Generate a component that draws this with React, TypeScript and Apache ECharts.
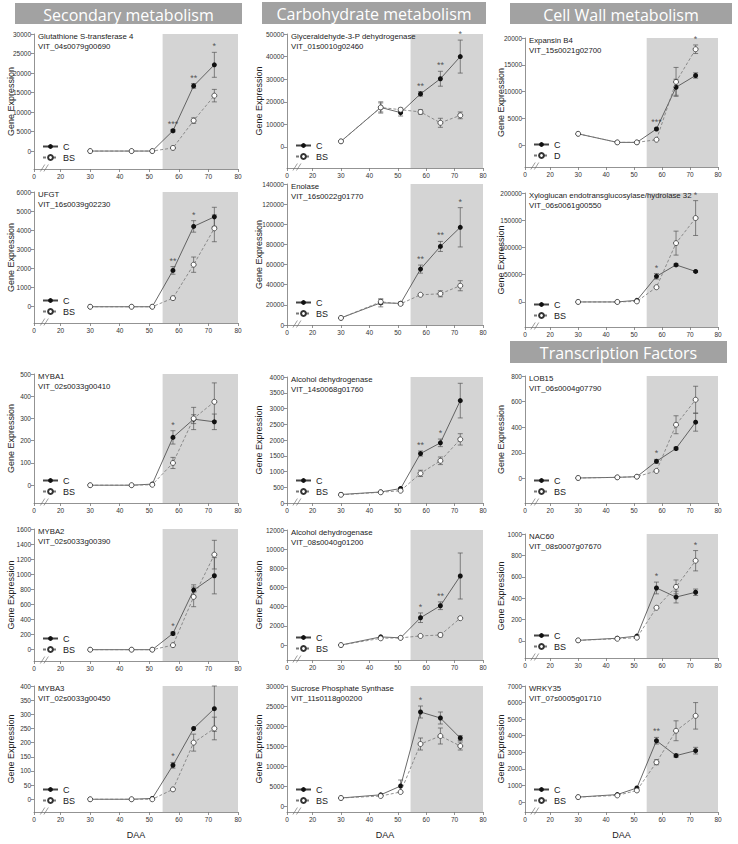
import React, { useEffect, useRef } from "react";
import * as echarts from "echarts";

const DAA = [30, 44, 51, 58, 65, 72];
const X_TICKS = [11, 20, 30, 40, 50, 60, 70, 80];

const headerTexts = ["Secondary metabolism", "Carbohydrate metabolism", "Cell Wall metabolism", "Transcription Factors"];

// 1 Glutathione S-transferase 4
const gstTitle = "Glutathione S-transferase 4\nVIT_04s0079g00690";
const gstC = [0, 0, 0, 5200, 16700, 22100];
const gstCErr = [0, 0, 0, 300, 600, 3200];
const gstB = [0, 0, 0, 800, 7800, 14200];
const gstBErr = [0, 0, 0, 200, 700, 1600];
const gstStars = ["", "", "", "***", "**", "*"];
const gstTicks = [0, 5000, 10000, 15000, 20000, 25000, 30000];

// 2 GAPDH
const gapTitle = "Glyceraldehyde-3-P dehydrogenase\nVIT_01s0010g02460";
const gapC = [2500, 17500, 15200, 23500, 30200, 40000];
const gapCErr = [0, 2500, 1500, 1000, 3300, 7300];
const gapB = [2500, 17500, 16500, 15500, 10700, 14000];
const gapBErr = [0, 2000, 800, 1000, 2000, 1500];
const gapStars = ["", "", "", "**", "**", "*"];
const gapTicks = [0, 10000, 20000, 30000, 40000, 50000];

// 3 Expansin B4
const expTitle = "Expansin B4\nVIT_15s0021g02700";
const expC = [2100, 500, 500, 3000, 10800, 13000];
const expCErr = [0, 0, 0, 200, 1500, 500];
const expB = [2100, 500, 500, 1000, 11800, 17900];
const expBErr = [0, 0, 0, 0, 2700, 800];
const expStars = ["", "", "", "***", "", "*"];
const expTicks = [0, 5000, 10000, 15000, 20000];

// 4 UFGT
const ufgtTitle = "UFGT\nVIT_16s0039g02230";
const ufgtC = [0, 0, 0, 1900, 4200, 4700];
const ufgtCErr = [0, 0, 0, 200, 300, 500];
const ufgtB = [0, 0, 0, 450, 2200, 4100];
const ufgtBErr = [0, 0, 0, 50, 400, 700];
const ufgtStars = ["", "", "", "**", "*", ""];
const ufgtTicks = [0, 1000, 2000, 3000, 4000, 5000, 6000];

// 5 Enolase
const enoTitle = "Enolase\nVIT_16s0022g01770";
const enoC = [7000, 22000, 21500, 55500, 78000, 97000];
const enoCErr = [0, 4000, 1500, 4000, 5000, 19500];
const enoB = [7000, 23000, 21000, 30000, 31000, 39000];
const enoBErr = [0, 2500, 1000, 1000, 3000, 5000];
const enoStars = ["", "", "", "**", "**", "*"];
const enoTicks = [0, 20000, 40000, 60000, 80000, 100000, 120000, 140000];

// 6 XTH32
const xthTitle = "Xyloglucan endotransglucosylase/hydrolase 32\nVIT_06s0061g00550";
const xthC = [0, 0, 3000, 47000, 68000, 56000];
const xthCErr = [0, 0, 0, 5000, 2000, 1500];
const xthB = [0, 0, 1000, 27000, 108000, 154000];
const xthBErr = [0, 0, 0, 2000, 22000, 32000];
const xthStars = ["", "", "", "*", "", "*"];
const xthTicks = [0, 50000, 100000, 150000, 200000];

// 7 MYBA1
const mybA1Title = "MYBA1\nVIT_02s0033g00410";
const mybA1C = [0, 0, 5, 215, 297, 285];
const mybA1CErr = [0, 0, 0, 30, 20, 35];
const mybA1B = [0, 0, 2, 100, 300, 375];
const mybA1BErr = [0, 0, 0, 25, 50, 85];
const mybA1Stars = ["", "", "", "*", "", ""];
const mybA1Ticks = [0, 100, 200, 300, 400, 500];

// 8 ADH 14s
const adh14Title = "Alcohol dehydrogenase\nVIT_14s0068g01760";
const adh14C = [270, 350, 460, 1570, 1910, 3250];
const adh14CErr = [0, 0, 30, 80, 120, 550];
const adh14B = [260, 340, 390, 940, 1340, 2020];
const adh14BErr = [0, 0, 0, 100, 120, 180];
const adh14Stars = ["", "", "", "**", "*", ""];
const adh14Ticks = [0, 500, 1000, 1500, 2000, 2500, 3000, 3500, 4000];

// 9 LOB15
const lobTitle = "LOB15\nVIT_06s0004g07790";
const lobC = [5, 10, 15, 135, 235, 440];
const lobCErr = [0, 0, 0, 15, 10, 70];
const lobB = [5, 10, 15, 60, 420, 615];
const lobBErr = [0, 0, 0, 5, 70, 105];
const lobStars = ["", "", "", "*", "", ""];
const lobTicks = [0, 200, 400, 600, 800];

// 10 MYBA2
const mybA2Title = "MYBA2\nVIT_02s0033g00390";
const mybA2C = [0, 0, 0, 215, 790, 980];
const mybA2CErr = [0, 0, 0, 20, 70, 240];
const mybA2B = [0, 0, 0, 60, 700, 1260];
const mybA2BErr = [0, 0, 0, 0, 130, 190];
const mybA2Stars = ["", "", "", "*", "", ""];
const mybA2Ticks = [0, 200, 400, 600, 800, 1000, 1200, 1400, 1600];

// 11 ADH 08s
const adh08Title = "Alcohol dehydrogenase\nVIT_08s0040g01200";
const adh08C = [0, 850, 750, 2850, 4100, 7200];
const adh08CErr = [0, 0, 0, 500, 400, 2400];
const adh08B = [0, 700, 750, 950, 1050, 2800];
const adh08BErr = [0, 0, 0, 0, 200, 0];
const adh08Stars = ["", "", "", "*", "**", ""];
const adh08Ticks = [0, 2000, 4000, 6000, 8000, 10000, 12000];

// 12 NAC60
const nacTitle = "NAC60\nVIT_08s0007g07670";
const nacC = [5, 25, 45, 495, 410, 455];
const nacCErr = [0, 0, 0, 55, 55, 30];
const nacB = [5, 20, 30, 310, 505, 750];
const nacBErr = [0, 0, 0, 0, 65, 95];
const nacStars = ["", "", "", "*", "", "*"];
const nacTicks = [0, 200, 400, 600, 800, 1000];

// 13 MYBA3
const mybA3Title = "MYBA3\nVIT_02s0033g00450";
const mybA3C = [0, 0, 3, 120, 250, 320];
const mybA3CErr = [0, 0, 0, 10, 0, 80];
const mybA3B = [0, 0, 0, 35, 200, 250];
const mybA3BErr = [0, 0, 0, 0, 30, 40];
const mybA3Stars = ["", "", "", "*", "", ""];
const mybA3Ticks = [0, 50, 100, 150, 200, 250, 300, 350, 400];

// 14 SPS
const spsTitle = "Sucrose Phosphate Synthase\nVIT_11s0118g00200";
const spsC = [2000, 2800, 5000, 23500, 22000, 17000];
const spsCErr = [0, 0, 1500, 1500, 1500, 600];
const spsB = [2000, 2500, 3500, 15500, 17500, 15000];
const spsBErr = [0, 0, 0, 1500, 2000, 1000];
const spsStars = ["", "", "", "*", "", ""];
const spsTicks = [0, 5000, 10000, 15000, 20000, 25000, 30000];

// 15 WRKY35
const wrkyTitle = "WRKY35\nVIT_07s0005g01710";
const wrkyC = [300, 450, 850, 3700, 2800, 3100];
const wrkyCErr = [0, 0, 0, 200, 100, 200];
const wrkyB = [300, 400, 700, 2400, 4300, 5200];
const wrkyBErr = [0, 0, 0, 150, 600, 800];
const wrkyStars = ["", "", "", "**", "", ""];
const wrkyTicks = [0, 1000, 2000, 3000, 4000, 5000, 6000, 7000];

const panels = [
  { title: gstTitle, c: gstC, ce: gstCErr, b: gstB, be: gstBErr, stars: gstStars, ticks: gstTicks, min: -4600, bName: "BS" },
  { title: gapTitle, c: gapC, ce: gapCErr, b: gapB, be: gapBErr, stars: gapStars, ticks: gapTicks, min: -9300, bName: "BS" },
  { title: expTitle, c: expC, ce: expCErr, b: expB, be: expBErr, stars: expStars, ticks: expTicks, min: -4100, bName: "D" },
  { title: ufgtTitle, c: ufgtC, ce: ufgtCErr, b: ufgtB, be: ufgtBErr, stars: ufgtStars, ticks: ufgtTicks, min: -850, bName: "BS" },
  { title: enoTitle, c: enoC, ce: enoCErr, b: enoB, be: enoBErr, stars: enoStars, ticks: enoTicks, min: 0, bName: "BS" },
  { title: xthTitle, c: xthC, ce: xthCErr, b: xthB, be: xthBErr, stars: xthStars, ticks: xthTicks, min: -46000, bName: "BS" },
  { title: mybA1Title, c: mybA1C, ce: mybA1CErr, b: mybA1B, be: mybA1BErr, stars: mybA1Stars, ticks: mybA1Ticks, min: -80, bName: "BS" },
  { title: adh14Title, c: adh14C, ce: adh14CErr, b: adh14B, be: adh14BErr, stars: adh14Stars, ticks: adh14Ticks, min: 0, bName: "BS" },
  { title: lobTitle, c: lobC, ce: lobCErr, b: lobB, be: lobBErr, stars: lobStars, ticks: lobTicks, min: -190, bName: "BS" },
  { title: mybA2Title, c: mybA2C, ce: mybA2CErr, b: mybA2B, be: mybA2BErr, stars: mybA2Stars, ticks: mybA2Ticks, min: -150, bName: "BS" },
  { title: adh08Title, c: adh08C, ce: adh08CErr, b: adh08B, be: adh08BErr, stars: adh08Stars, ticks: adh08Ticks, min: -1560, bName: "BS" },
  { title: nacTitle, c: nacC, ce: nacCErr, b: nacB, be: nacBErr, stars: nacStars, ticks: nacTicks, min: -160, bName: "BS" },
  { title: mybA3Title, c: mybA3C, ce: mybA3CErr, b: mybA3B, be: mybA3BErr, stars: mybA3Stars, ticks: mybA3Ticks, min: -45, bName: "BS" },
  { title: spsTitle, c: spsC, ce: spsCErr, b: spsB, be: spsBErr, stars: spsStars, ticks: spsTicks, min: -1500, bName: "BS" },
  { title: wrkyTitle, c: wrkyC, ce: wrkyCErr, b: wrkyB, be: wrkyBErr, stars: wrkyStars, ticks: wrkyTicks, min: -600, bName: "BS" },
];

// layout (pixels)
const colX = [
  { l: 34, r: 238, gap: 19 },
  { l: 287, r: 483, gap: 24 },
  { l: 525, r: 718, gap: 20 },
];
const rowY = [
  [{ t: 34, b: 169 }, { t: 34, b: 168 }, { t: 38, b: 167 }],
  [{ t: 192, b: 323 }, { t: 184, b: 325 }, { t: 193, b: 327 }],
  [{ t: 374, b: 503 }, { t: 377, b: 503 }, { t: 376, b: 503 }],
  [{ t: 529, b: 661 }, { t: 530, b: 660 }, { t: 534, b: 658 }],
  [{ t: 686, b: 812 }, { t: 686, b: 812 }, { t: 686, b: 812 }],
];
const headerBoxes = [
  { x: 15, y: 3, w: 227, h: 21 },
  { x: 262, y: 2, w: 224, h: 22 },
  { x: 510, y: 3, w: 222, h: 21 },
  { x: 510, y: 341, w: 217, h: 22 },
];

const FONT = "'Liberation Sans', Arial, sans-serif";

export default function App() {
  const ref = useRef<HTMLDivElement>(null);
  useEffect(() => {
    if (!ref.current) return;
    const chart = echarts.init(ref.current, undefined, { renderer: "svg" });
    const grid: any[] = [];
    const xAxis: any[] = [];
    const yAxis: any[] = [];
    const series: any[] = [];
    const legend: any[] = [];
    const title: any[] = [];

    panels.forEach((p, i) => {
      const row = Math.floor(i / 3);
      const col = i % 3;
      const cx = colX[col];
      const ry = rowY[row][col];
      const yMax = p.ticks[p.ticks.length - 1];
      grid.push({ left: cx.l, top: ry.t, width: cx.r - cx.l, height: ry.b - ry.t });
      xAxis.push({
        gridIndex: i,
        type: "value",
        min: 11,
        max: 80,
        splitLine: { show: false },
        axisLine: { onZero: false, lineStyle: { color: "#777", width: 0.8 } },
        axisTick: { customValues: X_TICKS, length: 3, lineStyle: { color: "#777", width: 0.8 } },
        axisLabel: {
          customValues: X_TICKS,
          formatter: (v: number) => (v === 11 ? "0" : String(v)),
          fontSize: 6.5,
          color: "#333",
          margin: 4,
          fontFamily: FONT,
        },
        name: row === 4 ? "DAA" : "",
        nameLocation: "middle",
        nameGap: 18,
        nameMoveOverlap: false,
        nameTextStyle: { fontSize: 9, color: "#222", fontFamily: FONT },
      });
      yAxis.push({
        gridIndex: i,
        type: "value",
        min: p.min,
        max: yMax,
        splitLine: { show: false },
        axisLine: { show: true, onZero: false, lineStyle: { color: "#777", width: 0.8 } },
        axisTick: { show: true, customValues: p.ticks, length: 3, lineStyle: { color: "#777", width: 0.8 } },
        axisLabel: {
          customValues: p.ticks,
          formatter: (v: number) => String(v),
          fontSize: 6.5,
          color: "#333",
          margin: 3,
          fontFamily: FONT,
        },
        name: "Gene Expression",
        nameLocation: "middle",
        nameGap: cx.gap,
        nameMoveOverlap: false,
        nameTextStyle: { fontSize: 9, color: "#222", fontFamily: FONT },
      });
      // shaded area
      series.push({
        type: "line",
        xAxisIndex: i,
        yAxisIndex: i,
        data: [],
        silent: true,
        z: 1,
        markArea: {
          silent: true,
          itemStyle: { color: "#d4d4d4" },
          data: [[{ xAxis: 54.5 }, { xAxis: 80 }]],
        },
      });
      // error bars
      const errData: number[][] = [];
      DAA.forEach((x, j) => {
        if (p.ce[j] > 0) errData.push([x, p.c[j] - p.ce[j], p.c[j] + p.ce[j]]);
        if (p.be[j] > 0) errData.push([x, p.b[j] - p.be[j], p.b[j] + p.be[j]]);
      });
      series.push({
        type: "custom",
        xAxisIndex: i,
        yAxisIndex: i,
        z: 2,
        silent: true,
        encode: { x: 0, y: [1, 2] },
        data: errData,
        renderItem: (params: any, api: any) => {
          const x = api.value(0);
          const lo = api.coord([x, api.value(1)]);
          const hi = api.coord([x, api.value(2)]);
          const w = 2.5;
          const st = { stroke: "#555", lineWidth: 0.7 };
          return {
            type: "group",
            children: [
              { type: "line", shape: { x1: lo[0], y1: lo[1], x2: hi[0], y2: hi[1] }, style: st },
              { type: "line", shape: { x1: lo[0] - w, y1: lo[1], x2: lo[0] + w, y2: lo[1] }, style: st },
              { type: "line", shape: { x1: hi[0] - w, y1: hi[1], x2: hi[0] + w, y2: hi[1] }, style: st },
            ],
          };
        },
      });
      series.push({
        type: "line",
        name: "C",
        xAxisIndex: i,
        yAxisIndex: i,
        z: 3,
        data: DAA.map((x, j) => [x, p.c[j]]),
        symbol: "circle",
        symbolSize: 5,
        itemStyle: { color: "#111" },
        lineStyle: { color: "#444", width: 0.8 },
      });
      series.push({
        type: "line",
        name: p.bName,
        xAxisIndex: i,
        yAxisIndex: i,
        z: 4,
        data: DAA.map((x, j) => [x, p.b[j]]),
        symbol: "circle",
        symbolSize: 5,
        itemStyle: { color: "#fff", borderColor: "#333", borderWidth: 0.8 },
        lineStyle: { color: "#777", width: 0.8, type: [3, 2] },
      });
      // significance stars
      const starData: any[] = [];
      DAA.forEach((x, j) => {
        if (p.stars[j]) {
          const top = Math.max(p.c[j] + p.ce[j], p.b[j] + p.be[j]);
          starData.push([x, top, p.stars[j]]);
        }
      });
      series.push({
        type: "scatter",
        xAxisIndex: i,
        yAxisIndex: i,
        z: 5,
        silent: true,
        symbolSize: 1,
        itemStyle: { color: "rgba(0,0,0,0)" },
        data: starData,
        label: {
          show: true,
          position: "top",
          distance: 1,
          formatter: (prm: any) => prm.data[2],
          fontSize: 9,
          color: "#333",
          fontFamily: FONT,
        },
      });
      // axis break mark
      series.push({
        type: "scatter",
        xAxisIndex: i,
        yAxisIndex: i,
        z: 6,
        silent: true,
        data: [[14.5, p.min]],
        symbol: "path://M0 10L5 0M4 10L9 0",
        symbolSize: [8, 7],
        symbolOffset: [0, -1],
        itemStyle: { color: "none", borderColor: "#666", borderWidth: 0.8 },
      });
      legend.push({
        left: cx.l + 8,
        top: ry.b - 27,
        padding: 0,
        orient: "vertical",
        itemWidth: 15,
        itemHeight: 6,
        itemGap: 2,
        selectedMode: false,
        textStyle: { fontSize: 9, color: "#222", fontFamily: FONT },
        data: [{ name: "C" }, { name: p.bName }],
      });
      title.push({
        text: p.title,
        left: cx.l + 4,
        top: ry.t - 3,
        padding: 0,
        textStyle: { fontSize: 7.8, fontWeight: "normal", color: "#222", lineHeight: 10, fontFamily: FONT },
      });
    });

    const graphic = headerBoxes.map((h, k) => ({
      type: "group",
      left: h.x,
      top: h.y,
      children: [
        { type: "rect", shape: { x: 0, y: 0, width: h.w, height: h.h }, style: { fill: "#a2a2a2" } },
        {
          type: "text",
          x: h.w / 2,
          y: h.h / 2 + 1,
          style: {
            text: headerTexts[k],
            fill: "#fff",
            font: "16px 'Open Sans', sans-serif",
            align: "center",
            verticalAlign: "middle",
          },
        },
      ],
    }));

    chart.setOption({
      animation: false,
      backgroundColor: "#fff",
      textStyle: { fontFamily: FONT },
      grid,
      xAxis,
      yAxis,
      series,
      legend,
      title,
      graphic,
    });
    return () => chart.dispose();
  }, []);
  return (
    <div
      ref={ref}
      style={{ position: "absolute", left: 0, top: 0, width: 738, height: 844 }}
    />
  );
}
